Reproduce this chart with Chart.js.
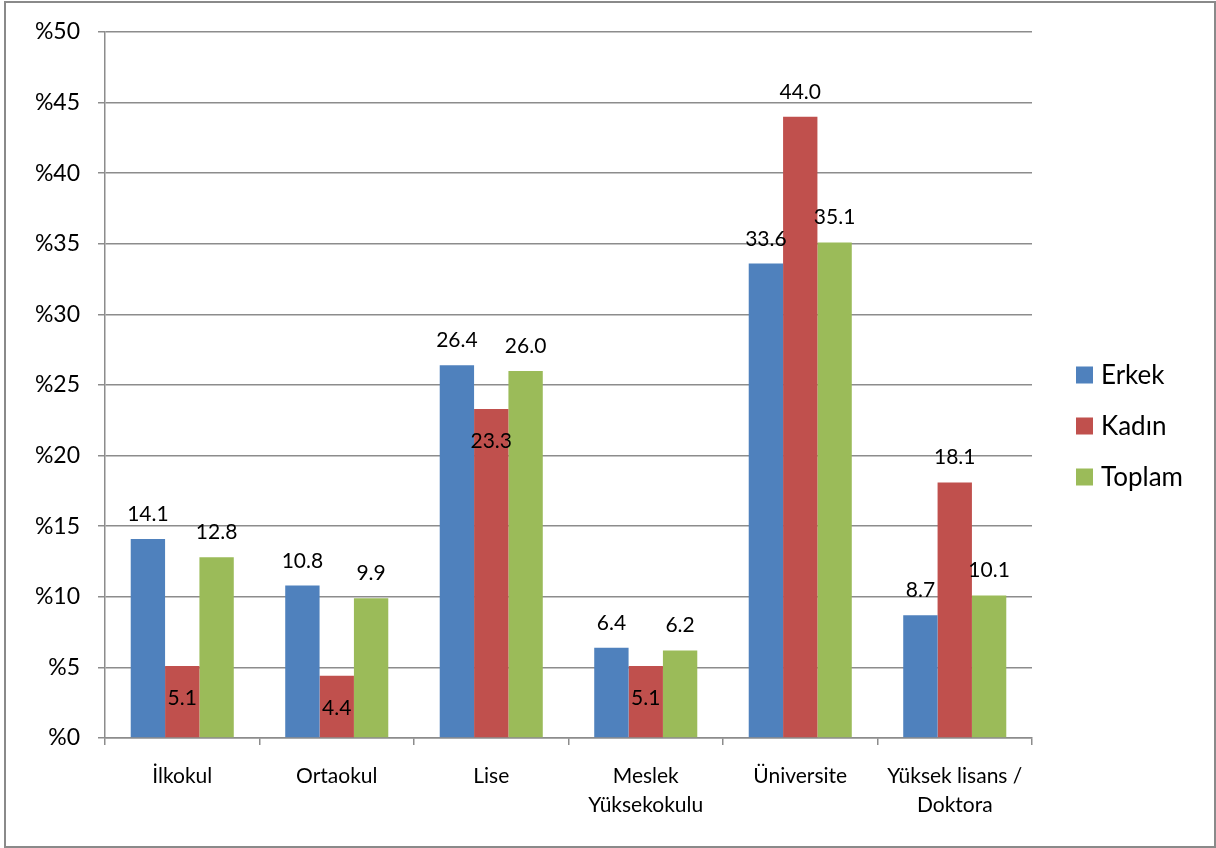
<!DOCTYPE html>
<html>
<head>
<meta charset="utf-8">
<script src="https://cdn.jsdelivr.net/npm/chart.js@4.4.1/dist/chart.umd.min.js"></script>
<style>
  html, body { margin: 0; padding: 0; background: #fff; }
  #wrap { width: 1216px; height: 848px; position: relative; }
</style>
</head>
<body>
<div id="wrap"><canvas id="c" width="1216" height="848"></canvas></div>
<script>
const categories = ['İlkokul', 'Ortaokul', 'Lise', ['Meslek', 'Yüksekokulu'], 'Üniversite', ['Yüksek lisans /', 'Doktora']];
const seriesNames = ['Erkek', 'Kadın', 'Toplam'];
const erkek = [14.1, 10.8, 26.4, 6.4, 33.6, 8.7];
const kadin = [5.1, 4.4, 23.3, 5.1, 44.0, 18.1];
const toplam = [12.8, 9.9, 26.0, 6.2, 35.1, 10.1];
const yTicks = [0, 5, 10, 15, 20, 25, 30, 35, 40, 45, 50];
const colors = ['#4F81BD', '#C0504D', '#9BBB59'];

const FONT = 'Lato, "Open Sans", sans-serif';
const GRID = '#8c8c8c';

const frame = {
  id: 'frame',
  afterDraw(chart) {
    const ctx = chart.ctx;
    ctx.save();
    ctx.strokeStyle = '#8a8a8a';
    ctx.lineWidth = 2;
    ctx.strokeRect(5, 2, 1210, 845);
    ctx.restore();
  }
};

const dataLabels = {
  id: 'dataLabels',
  afterDatasetsDraw(chart) {
    const ctx = chart.ctx;
    ctx.save();
    ctx.font = '21px ' + FONT;
    ctx.fillStyle = '#000';
    ctx.textAlign = 'center';
    ctx.textBaseline = 'alphabetic';
    const ds = chart.data.datasets;
    ds.forEach((d, di) => {
      const meta = chart.getDatasetMeta(di);
      meta.data.forEach((el, i) => {
        const v = d.data[i];
        let inside = false;
        if (di > 0 && di < ds.length - 1) {
          const l = ds[di - 1].data[i], r = ds[di + 1].data[i];
          inside = v < l && v < r;
        }
        const y = inside ? el.y + 39 : el.y - 18;
        ctx.fillText(v.toFixed(1), el.x, y);
      });
    });
    ctx.restore();
  }
};

const customLegend = {
  id: 'customLegend',
  afterDraw(chart) {
    const ctx = chart.ctx;
    ctx.save();
    ctx.font = '26px ' + FONT;
    ctx.textBaseline = 'middle';
    ctx.textAlign = 'left';
    chart.data.datasets.forEach((d, i) => {
      const cy = 375 + i * 51;
      ctx.fillStyle = d.backgroundColor;
      ctx.fillRect(1076, cy - 8.5, 17, 17);
      ctx.fillStyle = '#000';
      ctx.fillText(d.label, 1101, cy + 1);
    });
    ctx.restore();
  }
};

new Chart(document.getElementById('c'), {
  type: 'bar',
  data: {
    labels: categories,
    datasets: [
      { label: seriesNames[0], data: erkek, backgroundColor: colors[0] },
      { label: seriesNames[1], data: kadin, backgroundColor: colors[1] },
      { label: seriesNames[2], data: toplam, backgroundColor: colors[2] }
    ]
  },
  options: {
    responsive: false,
    animation: false,
    devicePixelRatio: 1,
    layout: { padding: { left: 0, top: 32, right: 184, bottom: 0 } },
    datasets: { bar: { barPercentage: 1.0, categoryPercentage: 0.667 } },
    plugins: {
      legend: { display: false },
      tooltip: { enabled: false },
      title: { display: false }
    },
    scales: {
      x: {
        afterFit(s) { s.height = 110; },
        grid: { offset: true, drawOnChartArea: false, drawTicks: true, tickLength: 7, color: GRID, lineWidth: 1.5 },
        border: { display: true, color: GRID, width: 1.5 },
        ticks: { color: '#000', font: { family: FONT, size: 21, lineHeight: 1.38 }, padding: 17, maxRotation: 0, autoSkip: false }
      },
      y: {
        min: 0, max: 50,
        afterFit(s) { s.width = 105; },
        afterBuildTicks(s) { s.ticks = yTicks.map(v => ({ value: v })); },
        grid: { color: GRID, lineWidth: 1.5, tickLength: 7, drawTicks: true },
        border: { display: true, color: GRID, width: 1.5 },
        ticks: { color: '#000', font: { family: FONT, size: 23 }, padding: 18, callback: v => '%' + v }
      }
    }
  },
  plugins: [dataLabels, customLegend, frame]
});
</script>
</body>
</html>
